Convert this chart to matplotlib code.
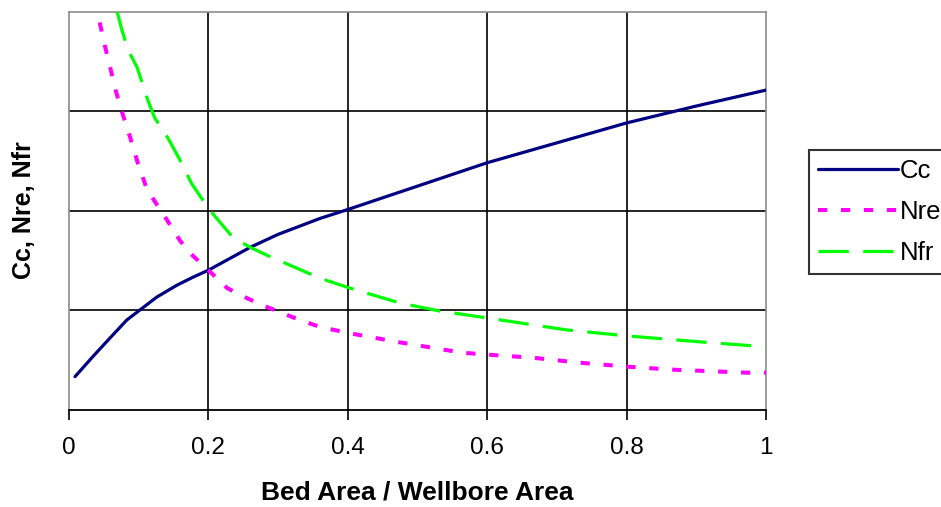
import matplotlib
matplotlib.use("Agg")
import matplotlib.pyplot as plt

plt.rcParams['font.family'] = ['Liberation Sans', 'DejaVu Sans']

# Data
cc_x = [0.0086, 0.034, 0.059, 0.083, 0.098, 0.126, 0.155, 0.178, 0.2, 0.26, 0.3, 0.36, 0.4,
        0.5, 0.6, 0.7, 0.8, 0.9, 1.0]
cc_y = [0.33, 0.53, 0.72, 0.90, 0.98, 1.13, 1.25, 1.33, 1.40, 1.63, 1.76, 1.92, 2.01,
        2.245, 2.48, 2.68, 2.88, 3.05, 3.21]

nre_x = [0.044, 0.052, 0.059, 0.066, 0.076, 0.0875, 0.099, 0.112, 0.141, 0.159, 0.174, 0.2,
         0.227, 0.255, 0.284, 0.331, 0.36, 0.4, 0.47, 0.565, 0.604, 0.666, 0.733, 0.802,
         0.867, 0.973, 1.0]
nre_y = [3.89, 3.64, 3.44, 3.23, 2.99, 2.74, 2.47, 2.21, 1.90, 1.70, 1.57, 1.40,
         1.22, 1.12, 1.03, 0.90, 0.83, 0.77, 0.68, 0.57, 0.55, 0.52, 0.47, 0.43,
         0.40, 0.37, 0.37]

nfr_x = [0.069, 0.076, 0.085, 0.0976, 0.113, 0.123, 0.141, 0.159, 0.176, 0.2, 0.235,
         0.26, 0.284, 0.327, 0.36, 0.403, 0.475, 0.532, 0.6, 0.714, 0.8, 0.905, 1.0]
nfr_y = [4.0, 3.81, 3.61, 3.44, 3.11, 2.93, 2.74, 2.51, 2.27, 2.02, 1.73,
         1.63, 1.55, 1.42, 1.32, 1.22, 1.07, 0.99, 0.92, 0.80, 0.74, 0.68, 0.63]

x_ticks = [0, 0.2, 0.4, 0.6, 0.8, 1]
x_tick_labels = ['0', '0.2', '0.4', '0.6', '0.8', '1']
y_grid = [1, 2, 3]

fig = plt.figure(figsize=(9.41, 5.07), dpi=100)
W, H = 941, 507
left, right, top, bottom = 69, 766, 11.5, 409.5
ax = fig.add_axes([left / W, 1 - bottom / H, (right - left) / W, (bottom - top) / H])

ax.set_xlim(0, 1)
ax.set_ylim(0, 4)

for v in x_ticks[1:-1]:
    ax.axvline(v, color='black', lw=1.2, zorder=1)
for v in y_grid:
    ax.axhline(v, color='black', lw=1.2, zorder=1)

ax.plot(cc_x, cc_y, color='#000080', lw=2.3, label='Cc', zorder=3, solid_capstyle='round')
ax.plot(nre_x, nre_y, color='#FF00FF', lw=2.9, dashes=(2.3, 3.4), label='Nre', zorder=3)
ax.plot(nfr_x, nfr_y, color='#00FF00', lw=2.3, dashes=(9.5, 4.5), label='Nfr', zorder=3)

for s in ['left', 'top', 'right']:
    ax.spines[s].set_color('#8c8c8c')
    ax.spines[s].set_linewidth(1.2)
ax.spines['bottom'].set_color('black')
ax.spines['bottom'].set_linewidth(1.3)

ax.set_xticks(x_ticks)
ax.set_xticklabels(x_tick_labels, fontsize=17.5)
ax.tick_params(axis='x', direction='out', length=7.5, width=1.2, color='black', pad=12)
ax.set_yticks([])

ax.set_xlabel('Bed Area / Wellbore Area', fontsize=19, fontweight='bold', labelpad=16)
ax.set_ylabel('Cc, Nre, Nfr', fontsize=18, fontweight='bold', labelpad=24)

leg = ax.legend(loc='center left', bbox_to_anchor=(809 / W, 1 - 212 / H),
                bbox_transform=fig.transFigure, frameon=True, fancybox=False,
                edgecolor='black', fontsize=18.5, handlelength=3.1,
                handletextpad=0.1, borderpad=0.35, labelspacing=0.68,
                borderaxespad=0)
leg.get_frame().set_linewidth(1.5)

fig.savefig('out.png', dpi=100)
